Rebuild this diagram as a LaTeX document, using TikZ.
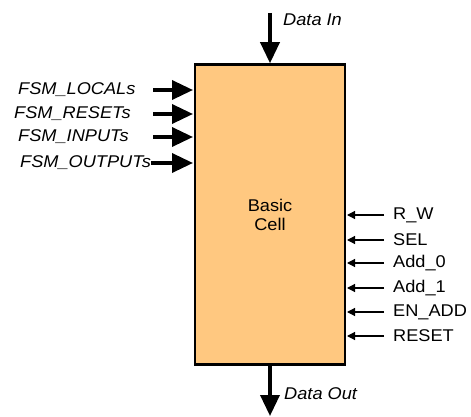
\documentclass[tikz,border=0pt]{standalone}
\usepackage{fontspec}
\setmainfont{Liberation Sans}[FakeStretch=1.07]
\usetikzlibrary{arrows.meta}
\definecolor{cellfill}{HTML}{FFC880}
\begin{document}
\begin{tikzpicture}[x=1pt,y=-1pt,
  bigarrow/.style={line width=3.5pt,-{Triangle[length=21pt,width=19pt]}},
  smallarrow/.style={line width=1.2pt,-{Triangle[length=8pt,width=8pt]}},
  ilabel/.style={font=\fontsize{17}{19}\selectfont\itshape,inner sep=0pt},
  rlabel/.style={font=\fontsize{17}{19}\selectfont,inner sep=0pt,anchor=west},
  cellbox/.style={draw=black,line width=2.5pt,fill=cellfill,minimum width=150pt,minimum height=300pt,inner sep=0pt}]
\useasboundingbox (0,0) rectangle (471,417);
\node[cellbox] (cell) at (270,214.5) {};
\node[font=\fontsize{17}{19.5}\selectfont,align=center] (celltext) at (270,215) {Basic\\Cell};
% top / bottom
\coordinate (din) at (270,13);
\draw[bigarrow] (din) -- (cell.north);
\node[ilabel,anchor=west] (dinl) at (283,20) {Data In};
\coordinate (dout) at (270,416);
\draw[bigarrow] (cell.south) -- (dout);
\node[ilabel,anchor=west] (doutl) at (284,394) {Data Out};
% left inputs
\node[ilabel,anchor=west] (l1) at (18,90) {FSM\_LOCALs};
\node[ilabel,anchor=west] (l2) at (14,114) {FSM\_RESETs};
\node[ilabel,anchor=west] (l3) at (18,137) {FSM\_INPUTs};
\node[ilabel,anchor=west] (l4) at (20,163) {FSM\_OUTPUTs};
\coordinate (a1) at (153,90); \coordinate (b1) at (193,90);
\coordinate (a2) at (153,114); \coordinate (b2) at (193,114);
\coordinate (a3) at (153,137); \coordinate (b3) at (193,137);
\coordinate (a4) at (l4.east); \coordinate (b4) at (193,163);
\draw[bigarrow] (a1) -- (b1);
\draw[bigarrow] (a2) -- (b2);
\draw[bigarrow] (a3) -- (b3);
\draw[bigarrow] (a4) -- (b4);
% right inputs
\foreach \n/\t/\y in {r1/R\_W/215, r2/SEL/240, r3/Add\_0/263, r4/Add\_1/288, r5/EN\_ADD/312, r6/RESET/336}{
  \node[rlabel] (\n) at (393,\y) {\t};
  \coordinate (\n s) at (384,\y);
  \coordinate (\n e) at (347,\y);
  \draw[smallarrow] (\n s) -- (\n e);
}
\end{tikzpicture}
\end{document}
